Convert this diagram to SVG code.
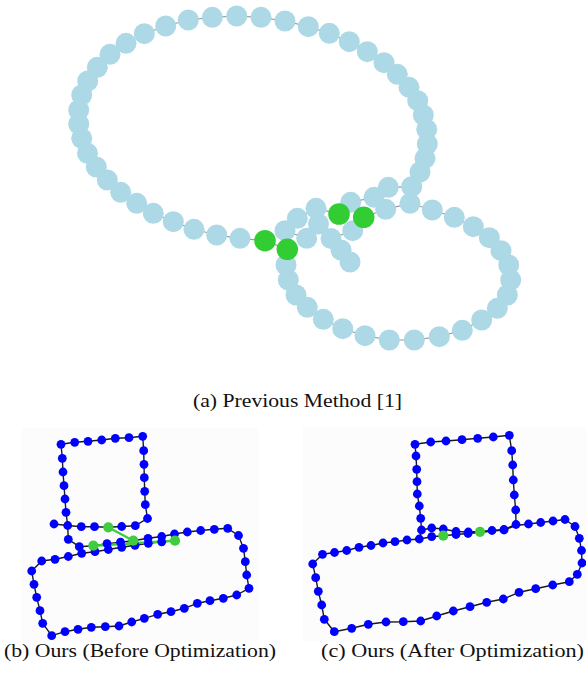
<svg xmlns="http://www.w3.org/2000/svg" width="586" height="680" viewBox="0 0 586 680">
  <style>
    .edgeA { fill: none; stroke: #9a9a9a; stroke-width: 1.2; }
    .nodeA { fill: #add8e6; }
    .loopA { fill: #32cd32; }
    .edgeB { fill: none; stroke: #1a1a1a; stroke-width: 1.4; stroke-linejoin: round; }
    .nodeB circle { r: 4.4px; }
    .nodeB { fill: #0000ff; }
    .loopB { fill: #3fcc3f; }
    .linkB { stroke: #3fcc3f; stroke-width: 2.4; }
    .frame { fill: #fcfcfc; }
    .cap { font-family: "Liberation Serif", "Times New Roman", serif; font-size: 19px; fill: #111; }
  </style>
  <rect width="586" height="680" fill="#ffffff"/>

  <!-- (a) pose graph from the previous method -->
  <g id="panel-a">
    <g id="edges-a">
      <polyline class="edgeA" points="350,262 341,250 331,238.5 352.7,230.7 363.7,217.3 385.7,209.3 410,203.3 432.3,210 454.3,217.3 473.3,226.7 489.3,237.7 501,250.7 508.7,265 510.7,280 507.3,295 497.3,308.3 481.7,320 462.3,330.3 439.3,336.7 414.3,340 389.3,340 365,335.7 342.7,328.7 323.3,319.3 307.3,307.3 296,295 288.3,280 286,265 287.3,249.3 265,240.7 240,238.3 216.7,235 194,229.3 173.3,221.7 153.3,213.3 136.7,203.3 120.7,192.3 107.3,180 96.3,167 87.5,153.3 81.7,138.3 78.7,124 78.7,110 81.7,95 87.7,81 97.3,67.3 110,54.3 126,43.3 144.3,33.7 165.7,26 188.3,20 212.3,17.3 236.7,16 261,17.3 285,21 308.3,26.7 329.3,33.3 349.3,41.7 367.3,51.7 384,62.7 397.3,74.3 409,87.3 417.7,100.7 423.3,115 426.7,129.3 427.3,144 425,158.3 420,172 411.7,186.7 388.3,187.3 374,197.3 350.7,202.3 339,214 316,208.3 297.3,218.3 285,230.7 306.7,238.3 318.5,224"/>
    </g>
    <g id="nodes-a">
      <circle class="nodeA" cx="350" cy="262" r="10.5"/>
      <circle class="nodeA" cx="341" cy="250" r="10.5"/>
      <circle class="nodeA" cx="331" cy="238.5" r="10.5"/>
      <circle class="nodeA" cx="352.7" cy="230.7" r="10.5"/>
      <circle class="nodeA" cx="385.7" cy="209.3" r="10.5"/>
      <circle class="nodeA" cx="410" cy="203.3" r="10.5"/>
      <circle class="nodeA" cx="432.3" cy="210" r="10.5"/>
      <circle class="nodeA" cx="454.3" cy="217.3" r="10.5"/>
      <circle class="nodeA" cx="473.3" cy="226.7" r="10.5"/>
      <circle class="nodeA" cx="489.3" cy="237.7" r="10.5"/>
      <circle class="nodeA" cx="501" cy="250.7" r="10.5"/>
      <circle class="nodeA" cx="508.7" cy="265" r="10.5"/>
      <circle class="nodeA" cx="510.7" cy="280" r="10.5"/>
      <circle class="nodeA" cx="507.3" cy="295" r="10.5"/>
      <circle class="nodeA" cx="497.3" cy="308.3" r="10.5"/>
      <circle class="nodeA" cx="481.7" cy="320" r="10.5"/>
      <circle class="nodeA" cx="462.3" cy="330.3" r="10.5"/>
      <circle class="nodeA" cx="439.3" cy="336.7" r="10.5"/>
      <circle class="nodeA" cx="414.3" cy="340" r="10.5"/>
      <circle class="nodeA" cx="389.3" cy="340" r="10.5"/>
      <circle class="nodeA" cx="365" cy="335.7" r="10.5"/>
      <circle class="nodeA" cx="342.7" cy="328.7" r="10.5"/>
      <circle class="nodeA" cx="323.3" cy="319.3" r="10.5"/>
      <circle class="nodeA" cx="307.3" cy="307.3" r="10.5"/>
      <circle class="nodeA" cx="296" cy="295" r="10.5"/>
      <circle class="nodeA" cx="288.3" cy="280" r="10.5"/>
      <circle class="nodeA" cx="286" cy="265" r="10.5"/>
      <circle class="nodeA" cx="240" cy="238.3" r="10.5"/>
      <circle class="nodeA" cx="216.7" cy="235" r="10.5"/>
      <circle class="nodeA" cx="194" cy="229.3" r="10.5"/>
      <circle class="nodeA" cx="173.3" cy="221.7" r="10.5"/>
      <circle class="nodeA" cx="153.3" cy="213.3" r="10.5"/>
      <circle class="nodeA" cx="136.7" cy="203.3" r="10.5"/>
      <circle class="nodeA" cx="120.7" cy="192.3" r="10.5"/>
      <circle class="nodeA" cx="107.3" cy="180" r="10.5"/>
      <circle class="nodeA" cx="96.3" cy="167" r="10.5"/>
      <circle class="nodeA" cx="87.5" cy="153.3" r="10.5"/>
      <circle class="nodeA" cx="81.7" cy="138.3" r="10.5"/>
      <circle class="nodeA" cx="78.7" cy="124" r="10.5"/>
      <circle class="nodeA" cx="78.7" cy="110" r="10.5"/>
      <circle class="nodeA" cx="81.7" cy="95" r="10.5"/>
      <circle class="nodeA" cx="87.7" cy="81" r="10.5"/>
      <circle class="nodeA" cx="97.3" cy="67.3" r="10.5"/>
      <circle class="nodeA" cx="110" cy="54.3" r="10.5"/>
      <circle class="nodeA" cx="126" cy="43.3" r="10.5"/>
      <circle class="nodeA" cx="144.3" cy="33.7" r="10.5"/>
      <circle class="nodeA" cx="165.7" cy="26" r="10.5"/>
      <circle class="nodeA" cx="188.3" cy="20" r="10.5"/>
      <circle class="nodeA" cx="212.3" cy="17.3" r="10.5"/>
      <circle class="nodeA" cx="236.7" cy="16" r="10.5"/>
      <circle class="nodeA" cx="261" cy="17.3" r="10.5"/>
      <circle class="nodeA" cx="285" cy="21" r="10.5"/>
      <circle class="nodeA" cx="308.3" cy="26.7" r="10.5"/>
      <circle class="nodeA" cx="329.3" cy="33.3" r="10.5"/>
      <circle class="nodeA" cx="349.3" cy="41.7" r="10.5"/>
      <circle class="nodeA" cx="367.3" cy="51.7" r="10.5"/>
      <circle class="nodeA" cx="384" cy="62.7" r="10.5"/>
      <circle class="nodeA" cx="397.3" cy="74.3" r="10.5"/>
      <circle class="nodeA" cx="409" cy="87.3" r="10.5"/>
      <circle class="nodeA" cx="417.7" cy="100.7" r="10.5"/>
      <circle class="nodeA" cx="423.3" cy="115" r="10.5"/>
      <circle class="nodeA" cx="426.7" cy="129.3" r="10.5"/>
      <circle class="nodeA" cx="427.3" cy="144" r="10.5"/>
      <circle class="nodeA" cx="425" cy="158.3" r="10.5"/>
      <circle class="nodeA" cx="420" cy="172" r="10.5"/>
      <circle class="nodeA" cx="411.7" cy="186.7" r="10.5"/>
      <circle class="nodeA" cx="388.3" cy="187.3" r="10.5"/>
      <circle class="nodeA" cx="374" cy="197.3" r="10.5"/>
      <circle class="nodeA" cx="350.7" cy="202.3" r="10.5"/>
      <circle class="nodeA" cx="316" cy="208.3" r="10.5"/>
      <circle class="nodeA" cx="297.3" cy="218.3" r="10.5"/>
      <circle class="nodeA" cx="285" cy="230.7" r="10.5"/>
      <circle class="nodeA" cx="306.7" cy="238.3" r="10.5"/>
      <circle class="nodeA" cx="318.5" cy="224" r="10.5"/>
      <circle class="loopA" cx="265" cy="240.7" r="10.8"/>
      <circle class="loopA" cx="287.3" cy="249.3" r="10.8"/>
      <circle class="loopA" cx="339" cy="214" r="10.8"/>
      <circle class="loopA" cx="363.7" cy="217.3" r="10.8"/>
    </g>
  </g>
  <text class="cap" x="193" y="407" textLength="209" lengthAdjust="spacingAndGlyphs">(a) Previous Method [1]</text>

  <!-- (b) trajectory before optimization -->
  <g id="panel-b">
    <rect class="frame" x="22" y="428" width="236" height="213"/>
    <g id="edges-b">
      <polyline class="edgeB" points="54,524 67.7,525.5 81.3,526.7 94.5,526.7 108.3,527.3 121.7,526.5 135.3,525.7 147.5,518.5 145.3,504.7 144.7,491.3 144.3,477.7 144,464.3 143.7,450.7 142.7,436.3 129,437.7 115.3,438.3 101.7,440 88,441.3 74.7,442.3 61,444.3 62.3,458.3 63,472 64,485.7 65,499 66,512.3 67.7,525.5 68.3,539.3 79.3,546.7 93.3,545.7 107,543.7 120.5,542.2 133.3,540.7 148,538.3 161.7,536.5 174.5,534 187.3,532 200.7,530.5 214.3,529.3 227.7,528.3 238.5,535.5 243.5,548.3 245.3,561.7 246.7,575 249,588.3 236.7,595 223.3,598.3 210,600.7 197.3,603.3 184.3,608.3 171,611.7 157.7,614.3 144.3,618.3 131.7,622 119,626 105.3,626.7 91.3,627.3 78,629.3 65,631.7 51.7,635.7 42.7,623.3 40,610.7 36.7,597.3 34,584.3 31.7,571 41.7,561 55,559.3 68.3,556.5 81.7,553.3 95,551.7 108.3,549.5 121.7,547.3 135,545.3 148.3,543.3 161.7,541.8 175,540.7"/>
      <line class="linkB" x1="108.3" y1="527.3" x2="133.3" y2="540.7"/>
      <line class="linkB" x1="93.3" y1="545.7" x2="175" y2="540.7"/>
    </g>
    <g id="nodes-b" class="nodeB">
      <circle cx="54" cy="524" r="4.4"/>
      <circle cx="67.7" cy="525.5" r="4.4"/>
      <circle cx="81.3" cy="526.7" r="4.4"/>
      <circle cx="94.5" cy="526.7" r="4.4"/>
      <circle cx="121.7" cy="526.5" r="4.4"/>
      <circle cx="135.3" cy="525.7" r="4.4"/>
      <circle cx="147.5" cy="518.5" r="4.4"/>
      <circle cx="145.3" cy="504.7" r="4.4"/>
      <circle cx="144.7" cy="491.3" r="4.4"/>
      <circle cx="144.3" cy="477.7" r="4.4"/>
      <circle cx="144" cy="464.3" r="4.4"/>
      <circle cx="143.7" cy="450.7" r="4.4"/>
      <circle cx="142.7" cy="436.3" r="4.4"/>
      <circle cx="129" cy="437.7" r="4.4"/>
      <circle cx="115.3" cy="438.3" r="4.4"/>
      <circle cx="101.7" cy="440" r="4.4"/>
      <circle cx="88" cy="441.3" r="4.4"/>
      <circle cx="74.7" cy="442.3" r="4.4"/>
      <circle cx="61" cy="444.3" r="4.4"/>
      <circle cx="62.3" cy="458.3" r="4.4"/>
      <circle cx="63" cy="472" r="4.4"/>
      <circle cx="64" cy="485.7" r="4.4"/>
      <circle cx="65" cy="499" r="4.4"/>
      <circle cx="66" cy="512.3" r="4.4"/>
      <circle cx="68.3" cy="539.3" r="4.4"/>
      <circle cx="79.3" cy="546.7" r="4.4"/>
      <circle cx="107" cy="543.7" r="4.4"/>
      <circle cx="120.5" cy="542.2" r="4.4"/>
      <circle cx="148" cy="538.3" r="4.4"/>
      <circle cx="161.7" cy="536.5" r="4.4"/>
      <circle cx="174.5" cy="534" r="4.4"/>
      <circle cx="187.3" cy="532" r="4.4"/>
      <circle cx="200.7" cy="530.5" r="4.4"/>
      <circle cx="214.3" cy="529.3" r="4.4"/>
      <circle cx="227.7" cy="528.3" r="4.4"/>
      <circle cx="238.5" cy="535.5" r="4.4"/>
      <circle cx="243.5" cy="548.3" r="4.4"/>
      <circle cx="245.3" cy="561.7" r="4.4"/>
      <circle cx="246.7" cy="575" r="4.4"/>
      <circle cx="249" cy="588.3" r="4.4"/>
      <circle cx="236.7" cy="595" r="4.4"/>
      <circle cx="223.3" cy="598.3" r="4.4"/>
      <circle cx="210" cy="600.7" r="4.4"/>
      <circle cx="197.3" cy="603.3" r="4.4"/>
      <circle cx="184.3" cy="608.3" r="4.4"/>
      <circle cx="171" cy="611.7" r="4.4"/>
      <circle cx="157.7" cy="614.3" r="4.4"/>
      <circle cx="144.3" cy="618.3" r="4.4"/>
      <circle cx="131.7" cy="622" r="4.4"/>
      <circle cx="119" cy="626" r="4.4"/>
      <circle cx="105.3" cy="626.7" r="4.4"/>
      <circle cx="91.3" cy="627.3" r="4.4"/>
      <circle cx="78" cy="629.3" r="4.4"/>
      <circle cx="65" cy="631.7" r="4.4"/>
      <circle cx="51.7" cy="635.7" r="4.4"/>
      <circle cx="42.7" cy="623.3" r="4.4"/>
      <circle cx="40" cy="610.7" r="4.4"/>
      <circle cx="36.7" cy="597.3" r="4.4"/>
      <circle cx="34" cy="584.3" r="4.4"/>
      <circle cx="31.7" cy="571" r="4.4"/>
      <circle cx="41.7" cy="561" r="4.4"/>
      <circle cx="55" cy="559.3" r="4.4"/>
      <circle cx="68.3" cy="556.5" r="4.4"/>
      <circle cx="81.7" cy="553.3" r="4.4"/>
      <circle cx="95" cy="551.7" r="4.4"/>
      <circle cx="108.3" cy="549.5" r="4.4"/>
      <circle cx="121.7" cy="547.3" r="4.4"/>
      <circle cx="135" cy="545.3" r="4.4"/>
      <circle cx="148.3" cy="543.3" r="4.4"/>
      <circle cx="161.7" cy="541.8" r="4.4"/>
    </g>
    <g id="loops-b" class="loopB">
      <circle cx="108.3" cy="527.3" r="5.1"/>
      <circle cx="133.3" cy="540.7" r="5.1"/>
      <circle cx="93.3" cy="545.7" r="5.1"/>
      <circle cx="175" cy="540.7" r="5.1"/>
    </g>
  </g>
  <text class="cap" x="4" y="657" textLength="272" lengthAdjust="spacingAndGlyphs">(b) Ours (Before Optimization)</text>

  <!-- (c) trajectory after optimization -->
  <g id="panel-c">
    <rect class="frame" x="303" y="427" width="283" height="214"/>
    <g id="edges-c">
      <polyline class="edgeB" points="421.5,530 431.7,528 443.3,529 456,531.5 468.3,532 480,531.5 492,530.5 504,529.5 516,524.5 515.7,510 514.3,495 513.3,480 512.7,465 511.7,450.7 509.3,435.3 493.3,437 477.7,438.3 462,439.7 446,441 430.7,442 415,444.3 416,456 416.7,469.3 417,481.7 417.3,494 419.3,506 420.7,518.3 421.5,530 419.3,539 407,540 395,541.7 383,543 371,545.5 359,547.3 346.7,550.5 334.5,552.5 322.5,554.3 312.7,564 315.7,577.7 318.3,591.3 321.7,605 324.3,619.3 334.3,631.7 351.7,628.3 368.3,624.3 386,622 403.3,621.7 420.7,621 436.7,616 453.3,611 470,606.7 486.7,602.3 503.3,599 519,592.3 535.7,588.7 552.7,585 569.3,581.7 577.3,574.3 582,563 581.5,550.5 579.3,538.3 575,526.5 565,519.5 553,521 540.7,522.5 528.5,524 516,525.5 504,530 492,531 480,532.5 468,533.5 456,534.5 443.3,535.7 431.7,536.7 419.3,539"/>
    </g>
    <g id="nodes-c" class="nodeB">
      <circle cx="421.5" cy="530" r="4.4"/>
      <circle cx="431.7" cy="528" r="4.4"/>
      <circle cx="443.3" cy="529" r="4.4"/>
      <circle cx="456" cy="531.5" r="4.4"/>
      <circle cx="468.3" cy="532" r="4.4"/>
      <circle cx="492" cy="530.5" r="4.4"/>
      <circle cx="504" cy="529.5" r="4.4"/>
      <circle cx="516" cy="524.5" r="4.4"/>
      <circle cx="515.7" cy="510" r="4.4"/>
      <circle cx="514.3" cy="495" r="4.4"/>
      <circle cx="513.3" cy="480" r="4.4"/>
      <circle cx="512.7" cy="465" r="4.4"/>
      <circle cx="511.7" cy="450.7" r="4.4"/>
      <circle cx="509.3" cy="435.3" r="4.4"/>
      <circle cx="493.3" cy="437" r="4.4"/>
      <circle cx="477.7" cy="438.3" r="4.4"/>
      <circle cx="462" cy="439.7" r="4.4"/>
      <circle cx="446" cy="441" r="4.4"/>
      <circle cx="430.7" cy="442" r="4.4"/>
      <circle cx="415" cy="444.3" r="4.4"/>
      <circle cx="416" cy="456" r="4.4"/>
      <circle cx="416.7" cy="469.3" r="4.4"/>
      <circle cx="417" cy="481.7" r="4.4"/>
      <circle cx="417.3" cy="494" r="4.4"/>
      <circle cx="419.3" cy="506" r="4.4"/>
      <circle cx="420.7" cy="518.3" r="4.4"/>
      <circle cx="419.3" cy="539" r="4.4"/>
      <circle cx="407" cy="540" r="4.4"/>
      <circle cx="395" cy="541.7" r="4.4"/>
      <circle cx="383" cy="543" r="4.4"/>
      <circle cx="371" cy="545.5" r="4.4"/>
      <circle cx="359" cy="547.3" r="4.4"/>
      <circle cx="346.7" cy="550.5" r="4.4"/>
      <circle cx="334.5" cy="552.5" r="4.4"/>
      <circle cx="322.5" cy="554.3" r="4.4"/>
      <circle cx="312.7" cy="564" r="4.4"/>
      <circle cx="315.7" cy="577.7" r="4.4"/>
      <circle cx="318.3" cy="591.3" r="4.4"/>
      <circle cx="321.7" cy="605" r="4.4"/>
      <circle cx="324.3" cy="619.3" r="4.4"/>
      <circle cx="334.3" cy="631.7" r="4.4"/>
      <circle cx="351.7" cy="628.3" r="4.4"/>
      <circle cx="368.3" cy="624.3" r="4.4"/>
      <circle cx="386" cy="622" r="4.4"/>
      <circle cx="403.3" cy="621.7" r="4.4"/>
      <circle cx="420.7" cy="621" r="4.4"/>
      <circle cx="436.7" cy="616" r="4.4"/>
      <circle cx="453.3" cy="611" r="4.4"/>
      <circle cx="470" cy="606.7" r="4.4"/>
      <circle cx="486.7" cy="602.3" r="4.4"/>
      <circle cx="503.3" cy="599" r="4.4"/>
      <circle cx="519" cy="592.3" r="4.4"/>
      <circle cx="535.7" cy="588.7" r="4.4"/>
      <circle cx="552.7" cy="585" r="4.4"/>
      <circle cx="569.3" cy="581.7" r="4.4"/>
      <circle cx="577.3" cy="574.3" r="4.4"/>
      <circle cx="582" cy="563" r="4.4"/>
      <circle cx="581.5" cy="550.5" r="4.4"/>
      <circle cx="579.3" cy="538.3" r="4.4"/>
      <circle cx="575" cy="526.5" r="4.4"/>
      <circle cx="565" cy="519.5" r="4.4"/>
      <circle cx="553" cy="521" r="4.4"/>
      <circle cx="540.7" cy="522.5" r="4.4"/>
      <circle cx="528.5" cy="524" r="4.4"/>
      <circle cx="504" cy="530" r="4.4"/>
      <circle cx="468" cy="533.5" r="4.4"/>
      <circle cx="456" cy="534.5" r="4.4"/>
      <circle cx="431.7" cy="536.7" r="4.4"/>
    </g>
    <g id="loops-c" class="loopB">
      <circle cx="480" cy="531.8" r="5.1"/>
      <circle cx="443.3" cy="535.7" r="5.1"/>
    </g>
  </g>
  <text class="cap" x="321" y="657" textLength="263" lengthAdjust="spacingAndGlyphs">(c) Ours (After Optimization)</text>
</svg>
